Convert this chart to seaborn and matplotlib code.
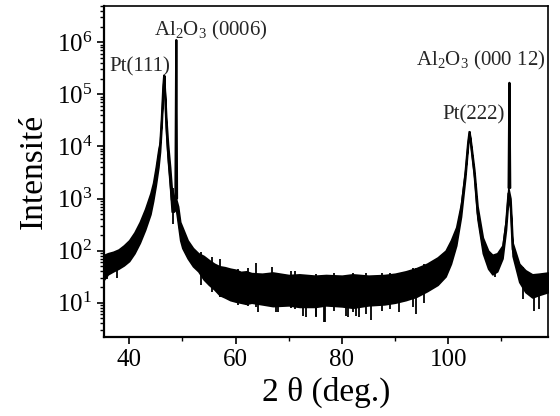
import numpy as np
import pandas as pd
import matplotlib
matplotlib.use("Agg")
import matplotlib.pyplot as plt
import matplotlib.ticker as mticker
import seaborn as sns

# envelope of the noisy XRD scan (2 theta in deg., intensity in counts)
two_theta = [35.3, 36, 37, 38, 39, 40, 41, 42, 43, 44, 44.5, 45, 45.5, 45.8,
             46.1, 46.4, 46.56, 46.75, 47.0, 47.3, 47.7, 48.0, 48.4, 48.8,
             49.2, 49.6, 50, 51, 52, 53, 54, 55, 56, 57, 58, 59, 60, 61, 62,
             63, 65, 67, 70, 72, 75, 77, 80, 82, 85, 88, 90, 92, 94, 96, 98,
             99.5, 100.5, 101.5, 102.4, 103.2, 103.7, 103.97, 104.3, 104.9,
             105.5, 106.5, 107.5, 108.3, 109.2, 110.2, 110.85, 111.3, 111.7,
             112.1, 113.35, 114.5, 115.8, 117, 118.8]
upper = [83, 89, 95, 105, 126, 158, 224, 355, 630, 1260, 2000, 4000, 8900,
         12600, 40000, 158000, 234000, 100000, 31600, 11200, 4000, 1580, 1120,
         1000, 710, 355, 282, 158, 112, 89, 79, 66, 56, 50, 48, 45, 43, 39, 40,
         37, 36, 38, 34, 35, 33, 34, 33, 35, 33, 34, 36, 40, 46, 56, 74,
         100, 158, 282, 794, 3550, 12600, 19500, 11200, 3550,
         710, 178, 100, 83, 89, 126, 400, 1580, 1000,
         141, 56, 42, 35, 36, 38]
lower = [28, 35, 40, 45, 52, 63, 89, 141, 251, 500, 890, 1780, 4000,
         7900, 25000, 126000, 224000, 79000, 15800, 5000, 1580, 560, 560,
         630, 316, 158, 112, 71, 50, 40, 28, 22, 18, 14, 12.6, 11.2, 10.5, 10,
         9.5, 10, 9.3, 8.6, 8.9, 8.3, 8.3, 8.9, 8.5, 8.0, 8.9, 9.3, 10, 11.2,
         13, 16.6, 22, 32, 56, 126, 450, 2500, 10000, 18600, 8900, 2500,
         400, 89, 45, 35, 40, 71, 250, 1000, 630,
         79, 25, 16, 12.6, 14, 16]

# sapphire substrate reflections (sharp lines)
sub_theta = [48.7, 48.86, 49.0, 111.35, 111.5, 111.65]
sub_int = [1000, 1100000, 1000, 1600, 166000, 1600]
sub_peak = ["0006", "0006", "0006", "00012", "00012", "00012"]

# isolated noise spikes: position, lowest / highest value reached
spike_theta = [35.8, 37.7, 48.3, 53.5, 55.5, 57.1, 60.5, 62.3, 63.9, 64.25,
               66.8, 67.7, 68.0, 70.5, 71.1, 72.7, 73.3, 75.1, 75.2, 76.6,
               76.8, 78.5, 80.8, 81.1, 82.1, 82.7, 83.3, 84.6, 85.5, 87.5,
               89.0, 90.8, 93.3, 94.0, 95.5, 108.7, 114.0, 116.2, 117.1]
spike_low = [28, 30, 320, 22, 16, 13, 9, 8.5, 8.1, 6.6, 10, 6.6, 6.6, 8.0,
             7.5, 5.6, 5.2, 5.6, 5.4, 4.3, 4.3, 7.0, 5.6, 5.4, 6.6, 5.6, 5.4,
             6.0, 4.6, 7.0, 7.5, 6.6, 8.1, 6.0, 10, 31, 12, 6.9, 7.5]
spike_high = [83, 95, 1580, 95, 75, 68, 45, 47, 57, 36, 48, 34, 34, 40, 41,
              34, 34, 36, 33, 33, 33, 38, 33, 33, 37, 33, 33, 37, 33, 38,
              38, 36, 46, 46, 55, 83, 48, 35, 36]

env = pd.DataFrame({"two_theta": two_theta, "upper": upper, "lower": lower})
env["mid"] = np.sqrt(env["upper"] * env["lower"])
sub = pd.DataFrame({"two_theta": sub_theta, "I": sub_int, "peak": sub_peak})

sns.set_theme(style="ticks")
plt.rcParams["font.family"] = ["Liberation Serif", "DejaVu Serif"]
plt.rcParams["mathtext.fontset"] = "custom"
plt.rcParams["mathtext.rm"] = "Liberation Serif"
plt.rcParams["mathtext.it"] = "Liberation Serif:italic"

fig = plt.figure(figsize=(5.6, 4.16), dpi=100)
ax = fig.add_axes([0.186, 0.19, 0.793, 0.796])

ax.fill_between(env["two_theta"], env["lower"], env["upper"], color="black",
                linewidth=1.2, edgecolor="black")
sns.lineplot(data=env, x="two_theta", y="mid", color="black", linewidth=1.4,
             ax=ax)
ax.vlines(spike_theta, spike_low, spike_high, color="black", linewidth=1.3)
sns.lineplot(data=sub, x="two_theta", y="I", units="peak", estimator=None,
             color="black", linewidth=1.6, ax=ax)

ax.set_yscale("log")
ax.set_xlim(35.3, 118.8)
ax.set_ylim(2.2, 5e6)

ax.xaxis.set_major_locator(mticker.MultipleLocator(20))
ax.xaxis.set_minor_locator(mticker.MultipleLocator(10))
ax.yaxis.set_major_locator(mticker.LogLocator(base=10, numticks=10))
ax.yaxis.set_minor_locator(mticker.LogLocator(base=10, subs=np.arange(2, 10),
                                              numticks=20))
ax.yaxis.set_minor_formatter(mticker.NullFormatter())
ax.set_yticks([1e1, 1e2, 1e3, 1e4, 1e5, 1e6])

ax.tick_params(axis="both", which="major", direction="out", length=5,
               width=1.2, labelsize=18, color="black", labelcolor="black")
ax.tick_params(axis="both", which="minor", direction="out", length=3,
               width=1.0, color="black")
for s in ax.spines.values():
    s.set_color("black")
    s.set_linewidth(1.2)
ax.spines["left"].set_linewidth(1.6)
ax.spines["bottom"].set_linewidth(1.6)

ax.set_xlabel("2 θ (deg.)", fontsize=24, color="black", labelpad=4)
ax.set_ylabel("Intensité", fontsize=24, color="black", labelpad=6)

ax.text(42.05, 3.3e5, "Pt(111)", fontsize=15, ha="center", va="center")
ax.text(55.4, 1.7e6, r"Al$_2$O$_3$ (0006)", fontsize=15, ha="center",
        va="center")
ax.text(104.8, 4.0e4, "Pt(222)", fontsize=15, ha="center", va="center")
ax.text(106.2, 4.5e5, r"Al$_2$O$_3$ (000 12)", fontsize=15, ha="center",
        va="center")

fig.savefig("out.png", dpi=100)
